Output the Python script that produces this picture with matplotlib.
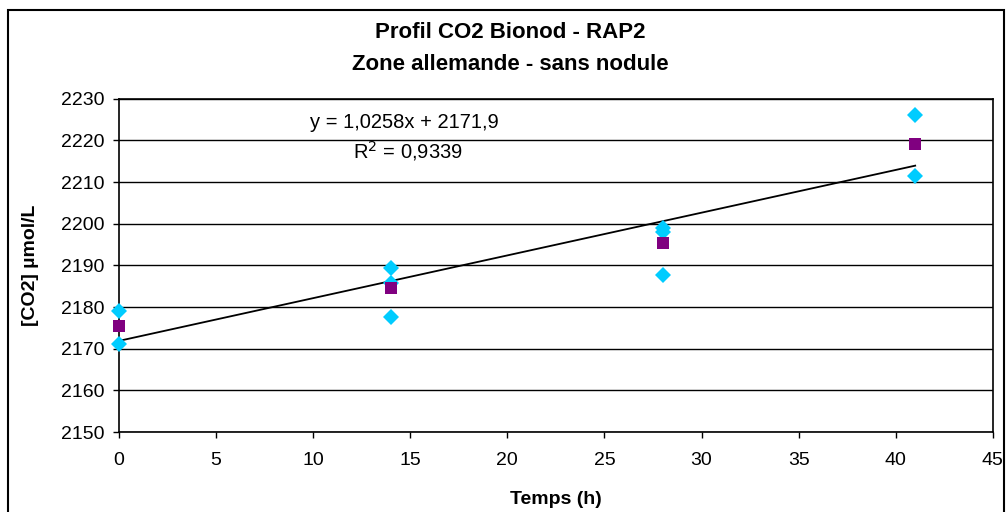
import numpy as np
import matplotlib.pyplot as plt
from matplotlib.patches import Rectangle

plt.rcParams['font.family'] = ['Liberation Sans', 'DejaVu Sans']

# individual measurements (cyan diamonds)
t_meas = [0, 0, 14, 14, 14, 28, 28, 28, 41, 41]
co2_meas = [2179.0, 2171.1, 2189.3, 2185.8, 2177.6, 2198.9, 2198.0, 2187.7, 2226.2, 2211.4]

# means (purple squares)
t_mean = [0, 14, 28, 41]
co2_mean = [2175.4, 2184.6, 2195.5, 2219.2]

# linear trend
slope = 1.0258
intercept = 2171.9
r2 = 0.9339

fig = plt.figure(figsize=(10.08, 5.12), dpi=100)
ax = fig.add_axes([0.118, 0.156, 0.867, 0.651])

for y in range(2150, 2240, 10):
    ax.axhline(y, color='black', lw=1.0, zorder=1)

xt = np.array([min(t_mean), max(t_mean)])
ax.plot(xt, slope * xt + intercept, color='black', lw=1.3, zorder=2)
ax.plot(t_meas, co2_meas, linestyle='none', marker='D', ms=8.5,
        color='#00ccff', markeredgewidth=0, zorder=3, clip_on=False)
ax.plot(t_mean, co2_mean, linestyle='none', marker='s', ms=8,
        color='#800080', markeredgewidth=0, zorder=4, clip_on=False)

ax.set_xlim(0, 45)
ax.set_ylim(2150, 2230)
ax.set_xticks(range(0, 50, 5))
ax.set_yticks(range(2150, 2240, 10))
ax.tick_params(labelsize=14, direction='out', length=4.5, width=1, color='black')
ax.tick_params(axis='x', pad=10)
ax.tick_params(axis='y', pad=6)
for s in ax.spines.values():
    s.set_color('black')
    s.set_linewidth(1.2)

ax.set_xlabel('Temps (h)', fontsize=14, fontweight='bold', labelpad=16)
ax.set_ylabel('[CO2] µmol/L', fontsize=14, fontweight='bold', labelpad=16)

ax.text(14.7, 2224.4, 'y = 1,0258x + 2171,9', fontsize=14.5, ha='center', va='center')
ax.text(14.9, 2217.5, 'R$^2$ = 0,9339', fontsize=14.5, ha='center', va='center')

fig.text(0.506, 0.937, 'Profil CO2 Bionod - RAP2', fontsize=16, fontweight='bold',
         ha='center', va='center')
fig.text(0.506, 0.875, 'Zone allemande - sans nodule', fontsize=16, fontweight='bold',
         ha='center', va='center')

fig.patches.append(Rectangle((0.008, -0.05), 0.988, 1.03, transform=fig.transFigure,
                             fill=False, edgecolor='black', lw=1.5))

fig.savefig('out.png', dpi=100)
